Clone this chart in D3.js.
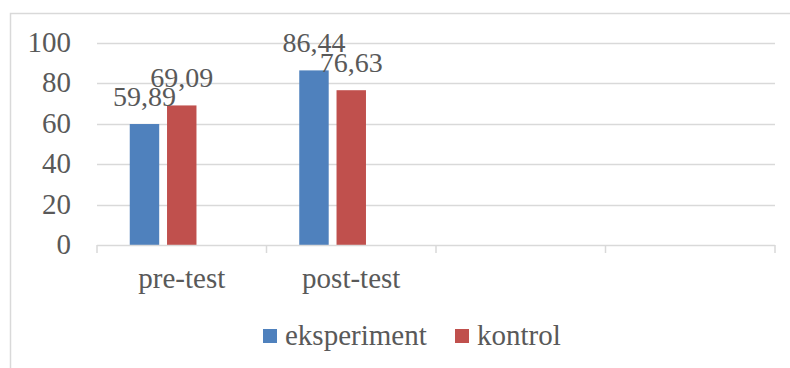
<!DOCTYPE html>
<html>
<head>
<meta charset="utf-8">
<script src="https://cdn.jsdelivr.net/npm/d3@7/dist/d3.min.js"></script>
<style>
  html, body { margin: 0; padding: 0; background: #fff; }
  svg { display: block; }
</style>
</head>
<body>
<svg id="chart" width="790" height="368"></svg>
<script>
// Categories on the x axis (the last two slots are left empty)
const categories = ["pre-test", "post-test", "", " "];
// Series names as shown in the legend
const seriesNames = ["eksperiment", "kontrol"];
// Series values per category (null = no bar)
const eksperiment = [59.89, 86.44, null, null];
const kontrol = [69.09, 76.63, null, null];
// Value axis ticks
const yTicks = [0, 20, 40, 60, 80, 100];
// Bar slots within each category (a third, unused slot keeps the pair off-centre)
const slots = ["eksperiment", "kontrol", "slot3"];

const colors = { eksperiment: "#4f81bd", kontrol: "#c0504d" };
const fmt = v => v.toFixed(2).replace(".", ",");
const FONT = "Liberation Serif";
const FS = 29;
const FS_VALUE = 28;
const TXT = "#595959";

const W = 790, H = 368;
const plot = { left: 97, right: 775, top: 43, bottom: 245 };

const svg = d3.select("#chart");

// Styled text helper
function label(sel, size = FS) {
  return sel.attr("font-family", FONT).attr("font-size", size).attr("fill", TXT);
}

// Chart frame
svg.append("rect")
  .attr("x", 10.5).attr("y", 13.5)
  .attr("width", W + 10).attr("height", H + 10)
  .attr("fill", "none").attr("stroke", "#d9d9d9").attr("stroke-width", 1.5);

const x0 = d3.scaleBand().domain(categories).range([plot.left, plot.right]).padding(0);
const y = d3.scaleLinear().domain([0, 100]).range([plot.bottom, plot.top]);

const groupWidth = 104;
const x1 = d3.scaleBand().domain(slots)
  .range([x0.bandwidth() / 2 - groupWidth / 2, x0.bandwidth() / 2 + groupWidth / 2])
  .paddingInner(0.21).paddingOuter(0);

// Gridlines
svg.append("g")
  .selectAll("line")
  .data(yTicks.filter(t => t > 0))
  .join("line")
  .attr("x1", plot.left).attr("x2", plot.right)
  .attr("y1", d => Math.round(y(d)) + 0.5).attr("y2", d => Math.round(y(d)) + 0.5)
  .attr("stroke", "#d9d9d9").attr("stroke-width", 1.5);

// Value axis labels
svg.append("g")
  .selectAll("text")
  .data(yTicks)
  .join("text")
  .call(label)
  .attr("x", 71).attr("y", d => y(d))
  .attr("dy", "0.31em")
  .attr("text-anchor", "end")
  .text(d => d);

// Bars
const rows = categories.map((c, i) => ({ cat: c, eksperiment: eksperiment[i], kontrol: kontrol[i] }));
const barData = [];
rows.forEach(r => seriesNames.forEach(s => {
  if (r[s] != null) barData.push({ cat: r.cat, series: s, value: r[s] });
}));

svg.append("g")
  .selectAll("rect")
  .data(barData)
  .join("rect")
  .attr("x", d => x0(d.cat) + x1(d.series))
  .attr("y", d => y(d.value))
  .attr("width", x1.bandwidth())
  .attr("height", d => y(0) - y(d.value))
  .attr("fill", d => colors[d.series]);

// Category axis
const xAxis = svg.append("g");
xAxis.append("line")
  .attr("x1", plot.left).attr("x2", plot.right)
  .attr("y1", plot.bottom + 0.5).attr("y2", plot.bottom + 0.5)
  .attr("stroke", "#d9d9d9").attr("stroke-width", 1.5);
const boundaries = categories.map(c => x0(c)).concat([x0(categories[categories.length - 1]) + x0.bandwidth()]);
xAxis.selectAll("line.tick")
  .data(boundaries)
  .join("line")
  .attr("class", "tick")
  .attr("x1", d => d).attr("x2", d => d)
  .attr("y1", plot.bottom).attr("y2", plot.bottom + 8)
  .attr("stroke", "#d9d9d9").attr("stroke-width", 1.5);
xAxis.selectAll("text")
  .data(categories)
  .join("text")
  .call(label)
  .attr("x", d => x0(d) + x0.bandwidth() / 2)
  .attr("y", 288)
  .attr("text-anchor", "middle")
  .text(d => d.trim());

// Data labels
svg.append("g")
  .selectAll("text")
  .data(barData)
  .join("text")
  .call(label, FS_VALUE)
  .attr("x", d => x0(d.cat) + x1(d.series) + x1.bandwidth() / 2)
  .attr("y", d => y(d.value) - 18.5)
  .attr("text-anchor", "middle")
  .text(d => fmt(d.value));

// Legend
const legend = svg.append("g");
const legendItems = [
  { name: seriesNames[0], x: 263 },
  { name: seriesNames[1], x: 455 }
];
const li = legend.selectAll("g").data(legendItems).join("g")
  .attr("transform", d => `translate(${d.x},329)`);
li.append("rect").attr("width", 14).attr("height", 14).attr("fill", d => colors[d.name]);
li.append("text").call(label).attr("x", 22).attr("y", 16).text(d => d.name);
</script>
</body>
</html>
